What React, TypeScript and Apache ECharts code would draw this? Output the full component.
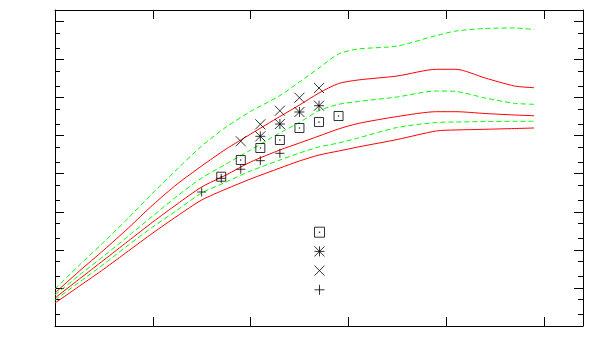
import React, { useEffect, useRef } from "react";
import * as echarts from "echarts";

// x positions of the sampled curve points
const lineX = [0, 2.5, 5, 7.5, 10, 12.5, 15, 17.5, 20, 23, 25, 27, 29, 31, 35, 39, 41, 44, 47, 49];

// red solid curves (top, middle, bottom)
const red1 = [7.36, 27.9, 99.1, 375, 1.51e3, 5.37e3, 1.6e4, 4.46e4, 1.1e5, 3.18e5, 6.38e5, 1.32e6, 2.34e6, 2.9e6, 3.69e6, 5.53e6, 5.53e6, 3.27e6, 2.01e6, 1.82e6];
const red2 = [5.44, 17.2, 54.2, 171, 539, 1.6e3, 4.48e3, 9.26e3, 2.03e4, 4.2e4, 6.41e4, 9.79e4, 1.5e5, 2.09e5, 3.18e5, 4.26e5, 4.26e5, 3.82e5, 3.49e5, 3.34e5];
const red3 = [4.02, 11.2, 31.4, 93.3, 277, 775, 2.04e3, 3.97e3, 7.27e3, 1.41e4, 2.16e4, 3.1e4, 3.95e4, 5.04e4, 7.92e4, 1.33e5, 1.41e5, 1.47e5, 1.54e5, 1.59e5];

// green dashed curves (top, middle, bottom)
const green1 = [9.37, 40.0, 161, 687, 3.12e3, 1.33e4, 5.35e4, 1.69e5, 4.31e5, 1.13e6, 2.57e6, 5.98e6, 1.4e7, 1.89e7, 2.26e7, 4.27e7, 5.61e7, 6.53e7, 6.73e7, 6.14e7];
const green2 = [6.52, 21.9, 69.0, 231, 775, 2.6e3, 7.72e3, 1.8e4, 4.2e4, 1.18e5, 2.22e5, 4.58e5, 6.66e5, 7.89e5, 1.04e6, 1.49e6, 1.45e6, 9.75e5, 7.08e5, 6.66e5];
const green3 = [4.82, 14.3, 42.5, 134, 399, 1.11e3, 3.12e3, 6.06e3, 1.18e4, 2.29e4, 3.5e4, 5.04e4, 6.41e4, 8.68e4, 1.64e5, 2.22e5, 2.28e5, 2.35e5, 2.38e5, 2.38e5];

// point series
const squareX = [17, 19, 21, 23, 25, 27, 29];
const squareY = [8.35e3, 2.29e4, 4.74e4, 7.69e4, 1.59e5, 2.28e5, 3.28e5];
const starX = [21, 23, 25, 27];
const starY = [9.61e4, 2.02e5, 4.18e5, 6.12e5];
const crossX = [19, 21, 23, 25, 27];
const crossY = [7.11e4, 1.99e5, 4.52e5, 9.93e5, 1.79e6];
const plusX = [15, 17, 19, 21, 23];
const plusY = [3.31e3, 7.58e3, 1.31e4, 2.2e4, 3.44e4];

// axes
const xMin = 0;
const xMax = 54;
const xInterval = 10;
const yMin = 1;
const yMax = 2e8;
const majorTickValues = [1, 10, 100, 1e3, 1e4, 1e5, 1e6, 1e7, 1e8];
const minorTickValues = [2, 5, 20, 50, 200, 500, 2e3, 5e3, 2e4, 5e4, 2e5, 5e5, 2e6, 5e6, 2e7, 5e7];

const SQUARE = "path://M-1,-1L1,-1L1,1L-1,1Z M-0.06,-0.06L0.06,-0.06L0.06,0.06L-0.06,0.06Z";
const STAR = "path://M0,-1L0,1M-1,0L1,0M-1,-1L1,1M-1,1L1,-1";
const CROSS = "path://M-1,-1L1,1M-1,1L1,-1";
const PLUS = "path://M0,-1L0,1M-1,0L1,0";

const pair = (xs: number[], ys: number[]) => xs.map((x, i) => [x, ys[i]]);

export default function App() {
  const ref = useRef<HTMLDivElement>(null);
  useEffect(() => {
    document.body.style.margin = "0";
    if (!ref.current) return;
    const chart = echarts.init(ref.current, undefined, { renderer: "svg" });
    const gridRect = { left: 55, top: 10, width: 528, height: 316 };
    const black = "#000";
    const lin = (v: number) => Math.log10(v);
    const yLogMax = lin(yMax);

    const frameX = (pos: "bottom" | "top") => ({
      gridIndex: 0,
      type: "value",
      min: xMin,
      max: xMax,
      interval: xInterval,
      position: pos,
      axisLine: { show: true, onZero: false, lineStyle: { color: black, width: 1 } },
      axisTick: { show: true, inside: true, length: 9, lineStyle: { color: black, width: 1 } },
      axisLabel: { show: false },
      splitLine: { show: false },
    });
    const hiddenX = (g: number) => ({ gridIndex: g, type: "value", min: xMin, max: xMax, show: false });
    const frameY = (pos: "left" | "right") => ({
      gridIndex: 0,
      type: "log",
      logBase: 10,
      min: yMin,
      max: yMax,
      position: pos,
      axisLine: { show: true, onZero: false, lineStyle: { color: black, width: 1 } },
      axisTick: { show: false },
      axisLabel: { show: false },
      splitLine: { show: false },
    });
    const tickY = (g: number, pos: "left" | "right", vals: number[], len: number) => ({
      gridIndex: g,
      type: "value",
      min: 0,
      max: yLogMax,
      position: pos,
      axisLine: { show: false },
      axisTick: { show: true, inside: true, length: len, customValues: vals.map(lin), lineStyle: { color: black, width: 1 } },
      axisLabel: { show: false },
      splitLine: { show: false },
    });

    const lineSeries = (data: number[], color: string, dashed: boolean) => ({
      type: "line",
      xAxisIndex: 0,
      yAxisIndex: 0,
      data: pair(lineX, data),
      showSymbol: false,
      symbol: "none",
      smooth: 0.25,
      lineStyle: { color, width: 1, type: dashed ? [5, 3] : "solid" },
      silent: true,
      z: 2,
    });
    const pointSeries = (name: string, xs: number[], ys: number[], symbol: string, size: number) => ({
      name,
      type: "scatter",
      xAxisIndex: 0,
      yAxisIndex: 0,
      data: pair(xs, ys),
      symbol,
      symbolSize: size,
      itemStyle: { color: "rgba(0,0,0,0)", borderColor: black, borderWidth: 1 },
      z: 3,
    });

    chart.setOption({
      animation: false,
      backgroundColor: "#fff",
      grid: [gridRect, gridRect, gridRect],
      xAxis: [frameX("bottom"), frameX("top"), hiddenX(1), hiddenX(2)],
      yAxis: [
        frameY("left"),
        frameY("right"),
        tickY(1, "left", majorTickValues, 9),
        tickY(1, "right", majorTickValues, 9),
        tickY(2, "left", minorTickValues, 5),
        tickY(2, "right", minorTickValues, 5),
      ],
      legend: {
        orient: "vertical",
        left: 314,
        top: 226.7,
        padding: 0,
        itemWidth: 10,
        itemHeight: 10,
        itemGap: 8.2,
        selectedMode: false,
        formatter: () => "",
        textStyle: { fontSize: 6 },
        itemStyle: { color: "rgba(0,0,0,0)", borderColor: black, borderWidth: 1 },
        data: [
          { name: "s1", icon: SQUARE },
          { name: "s2", icon: STAR },
          { name: "s3", icon: CROSS },
          { name: "s4", icon: PLUS },
        ],
      },
      series: [
        lineSeries(green1, "#00ff00", true),
        lineSeries(red1, "#ff0000", false),
        lineSeries(green2, "#00ff00", true),
        lineSeries(red2, "#ff0000", false),
        lineSeries(green3, "#00ff00", true),
        lineSeries(red3, "#ff0000", false),
        pointSeries("s1", squareX, squareY, SQUARE, 9),
        pointSeries("s2", starX, starY, STAR, 10),
        pointSeries("s3", crossX, crossY, CROSS, 10),
        pointSeries("s4", plusX, plusY, PLUS, 9),
      ],
    });
    return () => chart.dispose();
  }, []);
  return <div ref={ref} style={{ width: 600, height: 360 }} />;
}
